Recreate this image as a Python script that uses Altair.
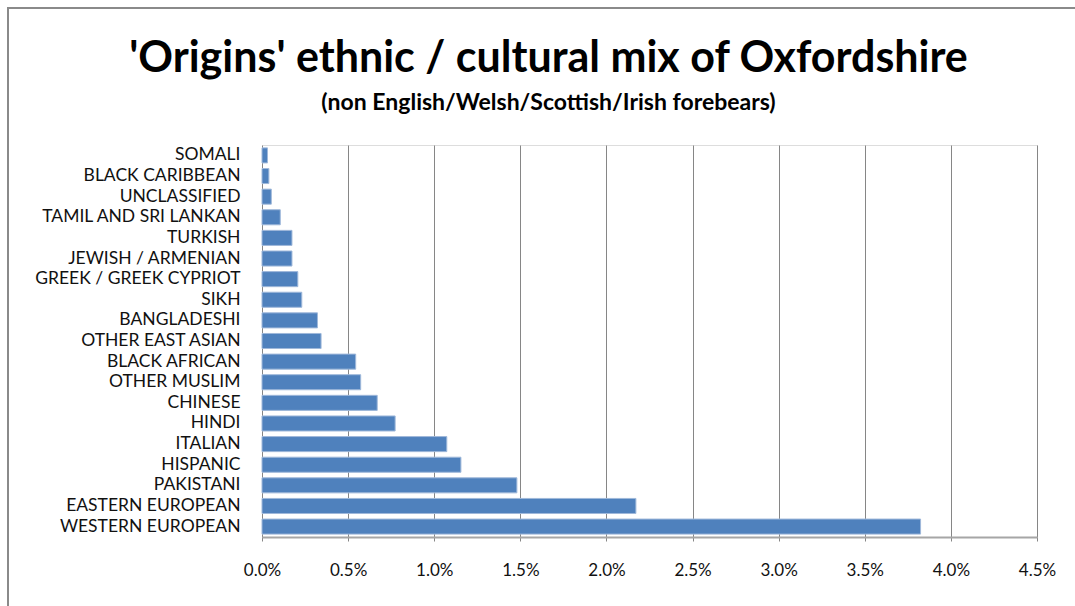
import altair as alt
import pandas as pd

# Share of Oxfordshire residents by 'Origins' group (percent of population)
groups = [
    "SOMALI", "BLACK CARIBBEAN", "UNCLASSIFIED", "TAMIL AND SRI LANKAN",
    "TURKISH", "JEWISH / ARMENIAN", "GREEK / GREEK CYPRIOT", "SIKH",
    "BANGLADESHI", "OTHER EAST ASIAN", "BLACK AFRICAN", "OTHER MUSLIM",
    "CHINESE", "HINDI", "ITALIAN", "HISPANIC", "PAKISTANI",
    "EASTERN EUROPEAN", "WESTERN EUROPEAN",
]
shares = [
    0.032, 0.040, 0.054, 0.106,
    0.174, 0.174, 0.208, 0.231,
    0.322, 0.343, 0.544, 0.573,
    0.669, 0.773, 1.073, 1.155, 1.480,
    2.171, 3.824,
]
tick_values = [0.0, 0.005, 0.01, 0.015, 0.02, 0.025, 0.03, 0.035, 0.04, 0.045]

df = pd.DataFrame({"group": groups, "share": [s / 100 for s in shares]})

FONT = "Lato"
W, H = 775, 392
PAD_L, PAD_T = 262, 145

bars = alt.Chart(df).mark_bar(
    color="#4F81BD", stroke="#9FB8DA", strokeWidth=1
).encode(
    x=alt.X(
        "share:Q",
        scale=alt.Scale(domain=[0, 0.045], nice=False),
        axis=alt.Axis(
            values=tick_values, format=".1%", title=None,
            grid=True, gridColor="#868686", gridWidth=1,
            domainColor="#A6A6A6", domainWidth=2,
            ticks=True, tickSize=4, tickColor="#868686", tickWidth=1,
            labelPadding=21, labelFlush=False,
            labelFont=FONT, labelFontSize=17, labelColor="#111111",
        ),
    ),
    y=alt.Y(
        "group:N", sort=groups,
        scale=alt.Scale(paddingInner=0.27, paddingOuter=0.14),
        axis=alt.Axis(
            title=None, domain=False, ticks=False, grid=False,
            labelPadding=22, labelFont=FONT, labelFontSize=17.5,
            labelColor="#111111", labelLimit=300,
        ),
    ),
)

# Outer frame of the chart
frame = alt.Chart(df).mark_rect(
    fill=None, stroke="#8A8A8A", strokeWidth=2
).encode(
    x=alt.value(8 - PAD_L), x2=alt.value(1085 - PAD_L),
    y=alt.value(8 - PAD_T), y2=alt.value(620 - PAD_T),
)

chart = alt.layer(bars, frame).properties(
    width=W, height=H,
    autosize=alt.AutoSizeParams(type="none"),
    padding={"left": PAD_L, "top": PAD_T, "right": 1075 - PAD_L - W, "bottom": 606 - PAD_T - H},
    title=alt.TitleParams(
        text="'Origins' ethnic / cultural mix of Oxfordshire",
        subtitle="(non English/Welsh/Scottish/Irish forebears)",
        font=FONT, fontSize=43, fontWeight="bold", color="#000000",
        subtitleFont=FONT, subtitleFontSize=23, subtitleFontWeight="bold",
        subtitleColor="#000000", subtitlePadding=11,
        anchor="middle", frame="group", dx=-101, offset=-108,
    ),
).configure_view(stroke=None).configure(background="white")

chart.save("out.html", embed_options={"renderer": "svg", "actions": False})
